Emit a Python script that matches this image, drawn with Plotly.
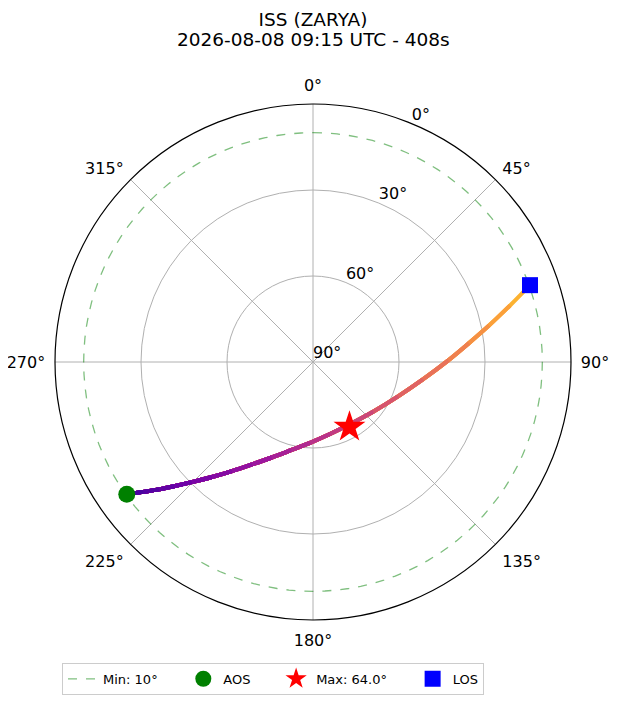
import plotly.graph_objects as go
from plotly.colors import sample_colorscale

# pass track (azimuth, elevation in degrees)
track_az = [234.6, 232.6, 230.4, 228.2, 225.3, 221.3, 216.6, 210.8, 203.4, 194.0, 182.1,
            166.7, 150.7, 129.6, 112.0, 99.0, 89.3, 83.1, 78.3, 74.0, 70.5]
track_el = [10.3, 15.4, 20.3, 25.0, 30.4, 36.6, 42.6, 48.4, 53.7, 58.3, 61.8,
            64.2, 64.8, 62.8, 58.0, 51.2, 42.8, 35.2, 27.3, 18.5, 9.7]

aos_az, aos_el = 234.6, 10.3
max_az, max_el = 150.7, 64.0
los_az, los_el = 70.5, 9.7
min_el = 10

az_ticks = [0, 45, 90, 135, 180, 225, 270, 315]
el_ticks = [90, 60, 30, 0]
el_label_az = 22.5

title_1 = "ISS (ZARYA)"
title_2 = "2026-08-08 09:15 UTC - 408s"

font = "DejaVu Sans"
pad = "\u00a0" * 5  # widen legend entries a bit, like matplotlib's spacing

def zen(el):
    return 90 - el

fig = go.Figure()

# elevation mask circle
mask_theta = list(range(0, 361, 3))
fig.add_trace(go.Scatterpolar(
    theta=mask_theta, r=[zen(min_el)] * len(mask_theta), mode="lines",
    line=dict(color="rgba(0,128,0,0.5)", width=1.3, dash="dash"),
    name=f"Min: {min_el}°" + pad))

# elevation labels, placed like matplotlib's rlabels
fig.add_trace(go.Scatterpolar(
    theta=[el_label_az] * len(el_ticks), r=[zen(e) for e in el_ticks],
    mode="text", text=[f"{e}°" for e in el_ticks], textposition="top right",
    textfont=dict(size=16, color="black"), cliponaxis=False,
    showlegend=False, hoverinfo="skip"))

# colour position along the pass: max elevation sits half way in time
n = len(track_az)
i_max = track_el.index(max(track_el))
frac = [0.5 * i / i_max if i <= i_max else 0.5 + 0.5 * (i - i_max) / (n - 1 - i_max)
        for i in range(n)]
cols = sample_colorscale("Plasma", [0.1 + 0.75 * (frac[i] + frac[i + 1]) / 2
                                    for i in range(n - 1)])

# longest prefix first, each shorter prefix paints over the start,
# so the spline stays smooth while the colour changes
for k in range(n - 1, 0, -1):
    fig.add_trace(go.Scatterpolar(
        theta=track_az[:k + 1], r=[zen(e) for e in track_el[:k + 1]],
        mode="lines", line=dict(color=cols[k - 1], width=4, shape="spline", smoothing=1),
        showlegend=False, hoverinfo="skip"))

fig.add_trace(go.Scatterpolar(
    theta=[aos_az], r=[zen(aos_el)], mode="markers", name="AOS" + pad,
    marker=dict(color="green", size=17, symbol="circle")))
fig.add_trace(go.Scatterpolar(
    theta=[max_az], r=[zen(max_el)], mode="markers", name=f"Max: {max_el:.1f}°" + pad,
    marker=dict(color="red", size=24, symbol="star")))
fig.add_trace(go.Scatterpolar(
    theta=[los_az], r=[zen(los_el)], mode="markers", name="LOS",
    marker=dict(color="blue", size=16, symbol="square")))

fig.update_layout(
    width=620, height=702,
    margin=dict(l=47, r=57, t=96, b=90, autoexpand=False),
    paper_bgcolor="white",
    font=dict(family=font, color="black", size=16),
    title=dict(text=title_1, x=0.5, xref="paper", y=1 - 12 / 702, yref="container",
               yanchor="middle", font=dict(size=18.5)),
    annotations=[dict(text=title_2, x=0.5, xref="paper", y=1 + 65 / 516, yref="paper",
                      yanchor="middle", showarrow=False, font=dict(size=18.5))],
    polar=dict(
        bgcolor="white",
        domain=dict(x=[0, 1], y=[0, 1]),
        angularaxis=dict(
            rotation=90, direction="clockwise",
            tickmode="array", tickvals=az_ticks,
            ticktext=[f"{a}°" for a in az_ticks],
            showline=True, linecolor="black", linewidth=1.2,
            showgrid=True, gridcolor="#b0b0b0", gridwidth=1,
            ticks="outside", ticklen=6, tickcolor="rgba(0,0,0,0)",
            tickfont=dict(size=16)),
        radialaxis=dict(
            range=[0, 90], tickmode="array",
            tickvals=[zen(e) for e in el_ticks],
            showticklabels=False, showline=False,
            showgrid=True, gridcolor="#b0b0b0", gridwidth=1,
            angle=67.5, ticks="")),
    legend=dict(orientation="h", x=0.0136, y=-0.083, xanchor="left", yanchor="top",
                bordercolor="#cccccc", borderwidth=1, font=dict(size=13),
                itemwidth=30),
)

fig.write_html("out.html")
